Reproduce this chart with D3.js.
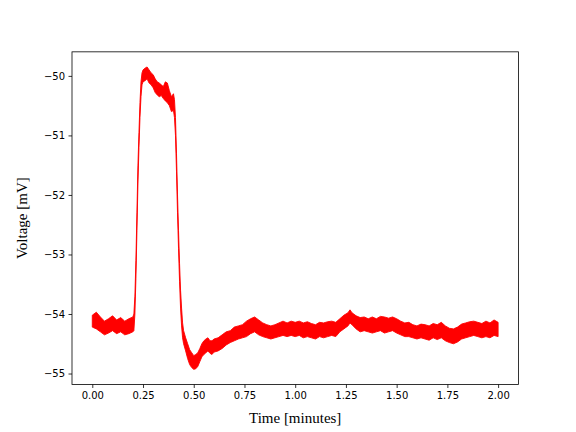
<!DOCTYPE html>
<html>
<head>
<meta charset="utf-8">
<script src="https://cdn.jsdelivr.net/npm/d3@7"></script>
<style>
  html, body { margin: 0; padding: 0; background: #fff; }
  svg { display: block; }
</style>
</head>
<body>
<svg id="chart" width="576" height="432"></svg>
<script>
// Time samples (minutes)
const time = [
  0.00, 0.02, 0.04, 0.06, 0.08, 0.10, 0.12, 0.14, 0.16, 0.18, 0.20,
  0.205, 0.21, 0.215, 0.22, 0.225, 0.23, 0.235, 0.24, 0.245, 0.25,
  0.26, 0.27, 0.28, 0.29, 0.30, 0.31, 0.32, 0.33, 0.34, 0.35, 0.36, 0.37, 0.38, 0.39, 0.40,
  0.405, 0.41, 0.415, 0.42, 0.425, 0.43, 0.435, 0.44, 0.445, 0.45,
  0.46, 0.47, 0.48, 0.49, 0.50, 0.51, 0.52, 0.53, 0.54, 0.55, 0.56, 0.57, 0.58, 0.59, 0.60,
  0.62, 0.64, 0.66, 0.68, 0.70, 0.72, 0.74, 0.76, 0.78, 0.80,
  0.82, 0.84, 0.86, 0.88, 0.90, 0.92, 0.94, 0.96, 0.98, 1.00,
  1.02, 1.04, 1.06, 1.08, 1.10, 1.12, 1.14, 1.16, 1.18, 1.20,
  1.22, 1.24, 1.26, 1.27, 1.28, 1.30, 1.32, 1.34, 1.36, 1.38, 1.40,
  1.42, 1.44, 1.46, 1.48, 1.50, 1.52, 1.54, 1.56, 1.58, 1.60,
  1.62, 1.64, 1.66, 1.68, 1.70, 1.72, 1.74, 1.76, 1.78, 1.80,
  1.82, 1.84, 1.86, 1.88, 1.90, 1.92, 1.94, 1.96, 1.98, 2.00
];
// Lower edge of the noisy voltage trace (mV)
const voltageLow = [
  -54.22, -54.25, -54.30, -54.35, -54.32, -54.28, -54.33, -54.30, -54.35, -54.33, -54.30,
  -54.28, -54.00, -53.40, -52.60, -51.80, -51.20, -50.70, -50.35, -50.15, -50.10,
  -50.08, -50.05, -50.12, -50.15, -50.20, -50.28, -50.32, -50.35, -50.33, -50.38, -50.42, -50.45, -50.50, -50.60, -50.58,
  -50.70, -51.00, -51.60, -52.30, -52.90, -53.45, -53.90, -54.20, -54.40, -54.50,
  -54.62, -54.75, -54.85, -54.90, -54.93, -54.92, -54.88, -54.80, -54.72, -54.68, -54.65, -54.62, -54.66, -54.68, -54.64,
  -54.62, -54.58, -54.52, -54.48, -54.45, -54.42, -54.40, -54.38, -54.33, -54.30,
  -54.35, -54.38, -54.40, -54.42, -54.40, -54.38, -54.36, -54.38, -54.36, -54.38,
  -54.36, -54.40, -54.38, -54.40, -54.42, -54.38, -54.40, -54.38, -54.36, -54.38,
  -54.30, -54.25, -54.20, -54.15, -54.18, -54.25, -54.30, -54.28, -54.30, -54.32, -54.30,
  -54.28, -54.32, -54.30, -54.28, -54.32, -54.35, -54.38, -54.38, -54.40, -54.42,
  -54.40, -54.42, -54.44, -54.40, -54.43, -54.40, -54.45, -54.48, -54.50, -54.47,
  -54.42, -54.40, -54.38, -54.36, -54.38, -54.40, -54.38, -54.40, -54.36, -54.38
];
// Upper edge of the noisy voltage trace (mV)
const voltageHigh = [
  -54.02, -53.97, -54.05, -54.12, -54.08, -54.03, -54.10, -54.06, -54.12, -54.08, -54.05,
  -54.00, -53.70, -53.10, -52.30, -51.50, -50.95, -50.45, -50.10, -49.95, -49.90,
  -49.87, -49.85, -49.90, -49.95, -49.98, -50.05, -50.10, -50.12, -50.15, -50.18, -50.10, -50.12, -50.25, -50.35, -50.30,
  -50.40, -50.70, -51.30, -52.00, -52.60, -53.15, -53.60, -53.90, -54.15, -54.28,
  -54.40, -54.50, -54.60, -54.65, -54.70, -54.68, -54.65, -54.58, -54.50, -54.45, -54.42, -54.40, -54.45, -54.45, -54.42,
  -54.40, -54.35, -54.30, -54.28, -54.22, -54.20, -54.18, -54.12, -54.08, -54.05,
  -54.10, -54.15, -54.18, -54.20, -54.18, -54.15, -54.12, -54.15, -54.12, -54.14,
  -54.12, -54.15, -54.13, -54.16, -54.18, -54.14, -54.15, -54.13, -54.12, -54.14,
  -54.08, -54.02, -53.98, -53.93, -53.98, -54.03, -54.06, -54.05, -54.08, -54.05, -54.08,
  -54.04, -54.05, -54.07, -54.05, -54.08, -54.12, -54.15, -54.14, -54.18, -54.20,
  -54.17, -54.18, -54.20, -54.16, -54.18, -54.14, -54.20, -54.24, -54.25, -54.22,
  -54.17, -54.15, -54.13, -54.12, -54.14, -54.16, -54.12, -54.15, -54.10, -54.14
];
const xTicks = [0.00, 0.25, 0.50, 0.75, 1.00, 1.25, 1.50, 1.75, 2.00];
const yTicks = [-55, -54, -53, -52, -51, -50];
const xLabel = "Time [minutes]";
const yLabel = "Voltage [mV]";

const W = 576, H = 432;
const mLeft = 72, mRight = 518.4, mTop = 51.84, mBottom = 384.48;

const data = time.map((t, i) => ({ t, lo: voltageLow[i], hi: voltageHigh[i] }));

const tMin = d3.min(time), tMax = d3.max(time);
const vMin = d3.min(voltageLow), vMax = d3.max(voltageHigh);
const tPad = (tMax - tMin) * 0.05, vPad = (vMax - vMin) * 0.05;

const x = d3.scaleLinear().domain([tMin - tPad, tMax + tPad]).range([mLeft, mRight]);
const y = d3.scaleLinear().domain([vMin - vPad, vMax + vPad]).range([mBottom, mTop]);

const svg = d3.select("#chart");

// trace
const area = d3.area()
  .x(d => x(d.t))
  .y0(d => y(d.lo))
  .y1(d => y(d.hi));
svg.append("path")
  .datum(data)
  .attr("d", area)
  .attr("fill", "#ff0000")
  .attr("stroke", "#ff0000")
  .attr("stroke-width", 0.9)
  .attr("stroke-linejoin", "round");

const tickFont = "'DejaVu Sans', sans-serif";
const fmtMinus = v => (v < 0 ? "\u2212" + Math.abs(v) : String(v));

// x axis
const xAxis = d3.axisBottom(x).tickValues(xTicks).tickFormat(d3.format(".2f"))
  .tickSizeInner(3.5).tickSizeOuter(0).tickPadding(3.5);
const gx = svg.append("g").attr("transform", `translate(0,${mBottom})`).call(xAxis);
gx.select(".domain").remove();
gx.selectAll("line").attr("stroke", "#000").attr("stroke-width", 0.8);
gx.selectAll("text").attr("font-family", tickFont).attr("font-size", 10).attr("fill", "#000");

// y axis
const yAxis = d3.axisLeft(y).tickValues(yTicks).tickFormat(fmtMinus)
  .tickSizeInner(3.5).tickSizeOuter(0).tickPadding(3.5);
const gy = svg.append("g").attr("transform", `translate(${mLeft},0)`).call(yAxis);
gy.select(".domain").remove();
gy.selectAll("line").attr("stroke", "#000").attr("stroke-width", 0.8);
gy.selectAll("text").attr("font-family", tickFont).attr("font-size", 10).attr("fill", "#000");

// spines
svg.append("rect")
  .attr("x", mLeft).attr("y", mTop)
  .attr("width", mRight - mLeft).attr("height", mBottom - mTop)
  .attr("fill", "none").attr("stroke", "#000").attr("stroke-width", 0.8);

// labels
const labelFont = "'Liberation Serif', 'Times New Roman', serif";
svg.append("text")
  .attr("x", (mLeft + mRight) / 2).attr("y", 423)
  .attr("text-anchor", "middle")
  .attr("font-family", labelFont).attr("font-size", 15)
  .attr("fill", "#000")
  .text(xLabel);
svg.append("text")
  .attr("transform", `translate(27,${(mTop + mBottom) / 2}) rotate(-90)`)
  .attr("text-anchor", "middle")
  .attr("font-family", labelFont).attr("font-size", 15)
  .attr("fill", "#000")
  .text(yLabel);
</script>
</body>
</html>
